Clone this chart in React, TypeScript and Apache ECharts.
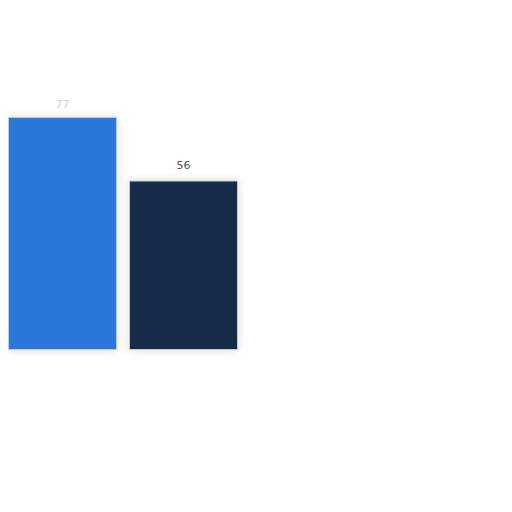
import { useEffect, useRef } from 'react'
import * as echarts from 'echarts'

const categories = ['']
const seriesNames = ['A', 'B']
const seriesValues = [[77], [56]]
const seriesColors = ['#2b78d9', '#13294a']
const labelColors = ['#d0d0d0', '#555555']
const labelGaps = [7, 10]

export default function App() {
  const chartRef = useRef<HTMLDivElement>(null)

  useEffect(() => {
    if (!chartRef.current) return
    const chart = echarts.init(chartRef.current, undefined, { renderer: 'svg' })

    const option: echarts.EChartsOption = {
      animation: false,
      backgroundColor: '#ffffff',
      grid: { left: 8, right: 274, top: 117, bottom: 162 },
      xAxis: {
        type: 'category',
        data: categories,
        show: false,
      },
      yAxis: {
        type: 'value',
        min: 0,
        max: 77,
        show: false,
      },
      series: seriesNames.map((name, i) => ({
        name,
        type: 'bar',
        data: seriesValues[i],
        barGap: '11%',
        barCategoryGap: 0,
        itemStyle: {
          color: seriesColors[i],
          borderColor: '#c8c8c8',
          borderWidth: 1,
          shadowColor: 'rgba(0,0,0,0.15)',
          shadowBlur: 8,
        },
        label: {
          show: true,
          position: 'top',
          distance: labelGaps[i],
          color: labelColors[i],
          fontSize: 11,
          fontFamily: 'DejaVu Sans',
        },
      })),
    }

    chart.setOption(option)

    return () => {
      chart.dispose()
    }
  }, [])

  return <div ref={chartRef} style={{ width: 512, height: 512, margin: -8 }} />
}
